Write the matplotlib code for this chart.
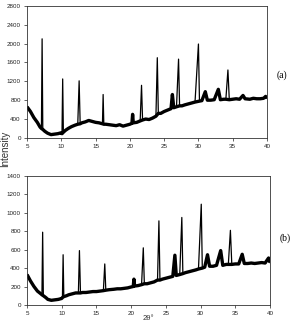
import matplotlib
matplotlib.use("Agg")
import matplotlib.pyplot as plt
import numpy as np

# --- data (2θ in degrees, intensity in counts) ---
two_theta_a = [5.0, 5.5, 6.0, 6.5, 6.9, 7.1, 7.2, 7.3, 7.6, 8.0, 8.5, 9.0, 9.5,
               10.0, 10.1, 10.2, 10.3, 10.6, 11.0, 11.5, 12.0, 12.4, 12.6, 12.75,
               13.0, 13.5, 14.0, 14.5, 15.0, 15.5, 16.0, 16.1, 16.2, 16.5, 17.0,
               17.5, 18.0, 18.5, 19.0, 19.5, 20.0, 20.3, 20.4, 20.5, 21.0, 21.5,
               21.7, 21.85, 22.3, 22.8, 23.3, 23.8, 24.0, 24.15, 24.5, 25.0, 25.5,
               26.0, 26.2, 26.4, 26.8, 27.1, 27.25, 27.6, 28.0, 28.5, 29.0, 29.5,
               30.0, 30.15, 30.5, 31.0, 31.3, 31.8, 32.3, 32.9, 33.2, 33.7, 34.0,
               34.3, 34.5, 35.0, 35.5, 36.0, 36.5, 36.8, 37.5, 38.0, 38.5, 39.0,
               39.5, 39.8, 40.0]
intensity_a = [660, 560, 430, 330, 230, 200, 2100, 180, 140, 100, 70, 80, 90,
               110, 90, 1250, 120, 160, 200, 240, 270, 290, 1210, 300,
               320, 340, 370, 350, 330, 320, 300, 920, 290, 290, 280,
               270, 260, 280, 250, 270, 290, 310, 500, 320, 330, 360,
               1115, 380, 400, 390, 420, 460, 1700, 520, 520, 560, 590,
               620, 920, 640, 660, 1670, 680, 680, 700, 720, 740, 760,
               1990, 780, 790, 980, 800, 800, 810, 1030, 810, 820, 820,
               1440, 810, 820, 830, 820, 900, 830, 820, 840, 830, 830,
               840, 880, 840]

two_theta_b = [5.0, 5.5, 6.0, 6.5, 7.0, 7.15, 7.25, 7.35, 7.7, 8.0, 8.5, 9.0, 9.5,
               10.0, 10.1, 10.2, 10.3, 10.7, 11.0, 11.5, 12.0, 12.4, 12.55, 12.7,
               13.0, 13.5, 14.0, 14.5, 15.0, 15.5, 16.0, 16.2, 16.35, 16.8, 17.5,
               18.0, 18.5, 19.0, 19.5, 20.0, 20.3, 20.4, 20.5, 21.0, 21.5, 21.75,
               21.9, 22.3, 22.8, 23.3, 23.8, 24.0, 24.15, 24.5, 25.0, 25.5, 26.0,
               26.3, 26.5, 27.0, 27.3, 27.45, 27.8, 28.3, 28.8, 29.3, 29.7, 30.1,
               30.25, 30.6, 31.0, 31.3, 31.8, 32.3, 32.9, 33.2, 33.7, 34.0, 34.3,
               34.5, 35.0, 35.5, 36.0, 36.3, 36.8, 37.3, 37.8, 38.3, 38.8, 39.3,
               39.8, 40.0]
intensity_b = [330, 260, 200, 150, 120, 110, 790, 100, 80, 60, 50, 55, 60,
               70, 80, 545, 90, 100, 110, 120, 130, 130, 590, 130,
               135, 135, 140, 145, 145, 150, 155, 445, 160, 165, 170,
               175, 175, 180, 185, 195, 200, 280, 205, 210, 220, 620,
               230, 230, 240, 250, 270, 913, 270, 280, 290, 300, 310,
               540, 320, 330, 950, 340, 350, 360, 370, 380, 390, 1094,
               400, 410, 545, 420, 420, 430, 590, 430, 440, 440, 810,
               440, 445, 445, 550, 450, 450, 455, 450, 455, 460, 455,
               510, 460]

x_ticks = [5, 10, 15, 20, 25, 30, 35, 40]
y_ticks_a = [0, 400, 800, 1200, 1600, 2000, 2400, 2800]
y_ticks_b = [0, 200, 400, 600, 800, 1000, 1200, 1400]


def draw_pattern(ax, x, y, peak_min):
    x = np.asarray(x)
    y = np.asarray(y, dtype=float)
    # thin line for the whole pattern (sharp reflections)
    ax.plot(x, y, color="black", lw=0.9)
    # thick band for the noisy background: drop the strong reflections
    is_peak = np.zeros(len(y), dtype=bool)
    is_peak[1:-1] = (y[1:-1] - np.maximum(y[:-2], y[2:])) > peak_min
    ax.plot(x[~is_peak], y[~is_peak], color="black", lw=2.4, solid_capstyle="butt")


def style_axes(ax, yticks):
    ax.set_xlim(5, 40)
    ax.set_ylim(yticks[0], yticks[-1])
    ax.set_xticks(x_ticks)
    ax.set_yticks(yticks)
    ax.tick_params(labelsize=4.5, length=2, width=0.5, pad=2.5, colors="#222222")
    for lab in ax.get_xticklabels() + ax.get_yticklabels():
        lab.set_family("Liberation Sans")
    for sp in ax.spines.values():
        sp.set_linewidth(0.6)
        sp.set_color("#333333")


fig = plt.figure(figsize=(2.97, 3.23), dpi=100)

ax_a = fig.add_axes([0.091, 0.573, 0.808, 0.409])
draw_pattern(ax_a, two_theta_a, intensity_a, 400)
style_axes(ax_a, y_ticks_a)

ax_b = fig.add_axes([0.091, 0.056, 0.818, 0.399])
draw_pattern(ax_b, two_theta_b, intensity_b, 250)
style_axes(ax_b, y_ticks_b)

fig.text(0.949, 0.768, "(a)", family="Liberation Serif", fontsize=7, ha="center", va="center")
fig.text(0.96, 0.263, "(b)", family="Liberation Serif", fontsize=7, ha="center", va="center")
fig.text(0.017, 0.539, "Intensity", family="Liberation Sans", fontsize=7,
         rotation=90, ha="center", va="center", color="#333333")
fig.text(0.498, 0.002, "2θ°", family="Liberation Sans", fontsize=5.5,
         ha="center", va="bottom", color="#333333")

fig.savefig("out.png", dpi=100)
